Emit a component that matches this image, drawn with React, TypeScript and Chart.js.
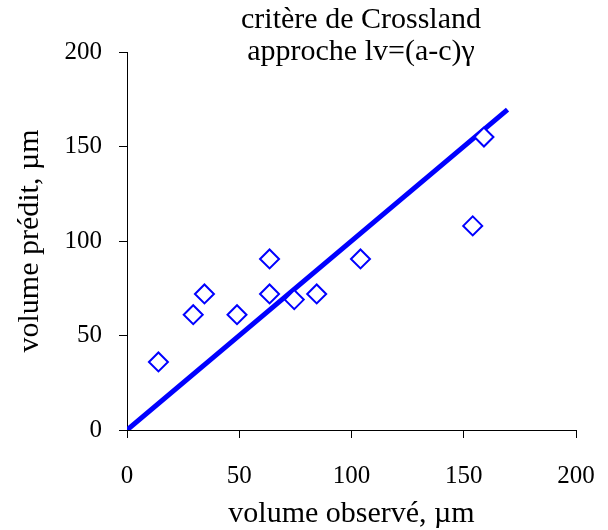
import React, { useEffect, useRef } from "react";
import { Chart, registerables } from "chart.js";

Chart.register(...registerables);

const observed = [14, 29.5, 34.5, 49, 63.5, 63.5, 74.5, 84.5, 104, 154, 159];
const predicted = [36, 61, 72, 61, 90.5, 72, 69, 72, 90.5, 108, 155];
const fitX = [0, 169.5];
const fitY = [0, 169.5];
const titleLines = ["critère de Crossland", "approche lv=(a-c)γ"];
const xTitle = "volume observé, µm";
const yTitle = "volume prédit, µm";

const FONT = "'Liberation Serif', 'Times New Roman', serif";

export default function App() {
  const ref = useRef<HTMLCanvasElement | null>(null);
  useEffect(() => {
    if (!ref.current) return;
    const titlePlugin = {
      id: "twoLineTitle",
      afterDraw(chart: any) {
        const ctx = chart.ctx;
        ctx.save();
        ctx.fillStyle = "#000";
        ctx.font = `30px ${FONT}`;
        ctx.textAlign = "center";
        ctx.textBaseline = "alphabetic";
        ctx.fillText(titleLines[0], 361, 28);
        ctx.fillText(titleLines[1], 361, 60);
        ctx.restore();
      },
    };
    const chart = new Chart(ref.current, {
      type: "scatter",
      data: {
        datasets: [
          {
            label: "points",
            data: observed.map((x, i) => ({ x, y: predicted[i] })),
            pointStyle: "rectRot",
            pointRadius: 9.5,
            pointBorderWidth: 2,
            borderColor: "#0000FF",
            backgroundColor: "#FFFFFF",
            showLine: false,
            order: 0,
          },
          {
            label: "fit",
            type: "line",
            data: fitX.map((x, i) => ({ x, y: fitY[i] })),
            borderColor: "#0000FF",
            borderWidth: 5,
            pointRadius: 0,
            fill: false,
            order: 1,
          } as any,
        ],
      },
      options: {
        animation: false,
        responsive: true,
        maintainAspectRatio: false,
        layout: { padding: { top: 52, right: 32, left: 0, bottom: 0 } },
        plugins: {
          legend: { display: false },
          tooltip: { enabled: false },
          title: { display: false },
        },
        scales: {
          x: {
            type: "linear",
            min: 0,
            max: 200,
            afterFit: (s: any) => {
              s.height = 100;
              s.paddingLeft = 0;
              s.paddingRight = 0;
            },
            ticks: {
              stepSize: 50,
              color: "#000",
              padding: 23,
              font: { family: FONT, size: 25 },
            },
            grid: {
              drawOnChartArea: false,
              drawTicks: true,
              tickLength: 8,
              color: "#000",
            },
            border: { display: true, color: "#000", width: 1 },
            title: {
              display: true,
              text: xTitle,
              color: "#000",
              font: { family: FONT, size: 30 },
              padding: { top: 0, bottom: -2 },
            },
          },
          y: {
            type: "linear",
            min: 0,
            max: 200,
            afterFit: (s: any) => {
              s.width = 127;
              s.paddingTop = 0;
              s.paddingBottom = 0;
            },
            ticks: {
              stepSize: 50,
              color: "#000",
              padding: 17,
              font: { family: FONT, size: 25 },
            },
            grid: {
              drawOnChartArea: false,
              drawTicks: true,
              tickLength: 8,
              color: "#000",
            },
            border: { display: true, color: "#000", width: 1 },
            title: {
              display: true,
              text: yTitle,
              color: "#000",
              font: { family: FONT, size: 30 },
              padding: { top: 12, bottom: 0 },
            },
          },
        },
      },
      plugins: [titlePlugin],
    });
    return () => chart.destroy();
  }, []);
  return (
    <div style={{ position: "fixed", left: 0, top: 0, width: 608, height: 530, background: "#fff" }}>
      <canvas ref={ref} />
    </div>
  );
}
